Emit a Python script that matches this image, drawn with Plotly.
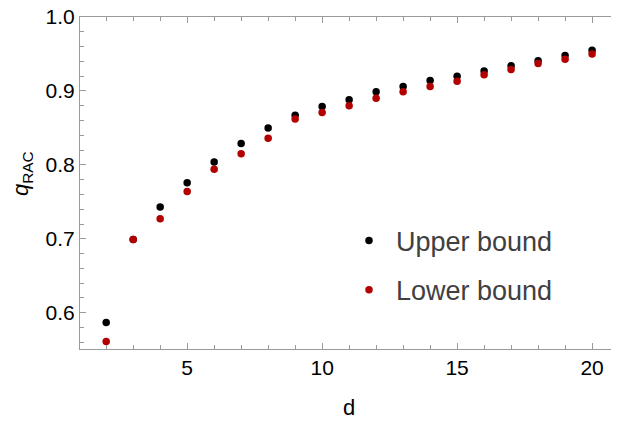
import plotly.graph_objects as go

d_values = list(range(2, 21))
upper_bound = [0.587, 0.699, 0.743, 0.776, 0.804, 0.829, 0.850, 0.867, 0.879, 0.888,
               0.899, 0.906, 0.914, 0.920, 0.927, 0.934, 0.941, 0.948, 0.955]
lower_bound = [0.561, 0.699, 0.727, 0.764, 0.794, 0.815, 0.836, 0.862, 0.871, 0.880,
               0.890, 0.899, 0.906, 0.913, 0.922, 0.929, 0.937, 0.943, 0.950]
series_names = ["Upper bound", "Lower bound"]
x_ticks = [5, 10, 15, 20]
y_ticks = [0.6, 0.7, 0.8, 0.9, 1.0]

FONT = "Liberation Sans, Arial, sans-serif"
AXIS_COLOR = "#9a9a9a"

fig = go.Figure()
fig.add_trace(go.Scatter(x=d_values, y=upper_bound, mode="markers", name=series_names[0],
                         marker=dict(color="#000000", size=7.5), legendgroup="u"))
fig.add_trace(go.Scatter(x=d_values, y=lower_bound, mode="markers", name=series_names[1],
                         marker=dict(color="#b30000", size=7.5), legendgroup="l"))

axis_common = dict(
    showline=True, linecolor=AXIS_COLOR, linewidth=1.2, mirror="allticks",
    ticks="inside", tickcolor=AXIS_COLOR, tickwidth=1.2, ticklen=6,
    showgrid=False, zeroline=False, automargin=False, ticklabeloverflow="allow",
    tickfont=dict(family=FONT, size=21, color="#000000"),
)

fig.update_xaxes(range=[1.03, 20.96], tickvals=x_ticks, ticktext=[str(v) for v in x_ticks],
                 minor=dict(dtick=1, tick0=0, ticks="inside", ticklen=3.5, tickcolor=AXIS_COLOR, tickwidth=1.2),
                 **axis_common)
fig.update_yaxes(range=[0.551, 1.0], tickvals=y_ticks, ticktext=[f"{v:.1f}" for v in y_ticks],
                 minor=dict(dtick=0.02, tick0=0, ticks="inside", ticklen=3.5, tickcolor=AXIS_COLOR, tickwidth=1.2),
                 **axis_common)

fig.add_annotation(text="d", xref="paper", yref="paper", x=0.5, y=0, yshift=-58, yanchor="middle",
                   showarrow=False, font=dict(family=FONT, size=22, color="#000000"))
fig.add_annotation(text="<i>q</i><sub>RAC</sub>", xref="paper", yref="paper", x=0, xshift=-58,
                   xanchor="center", y=0.527, yanchor="middle", textangle=-90, showarrow=False,
                   font=dict(family=FONT, size=22, color="#000000"))

# page body has an 8px margin, so the figure is 8px smaller and margins shifted
fig.update_layout(
    width=611, height=416,
    margin=dict(l=72, r=1, t=9, b=75, autoexpand=False),
    paper_bgcolor="white", plot_bgcolor="white",
    showlegend=True,
    legend=dict(x=0.487, y=0.399, xanchor="left", yanchor="top", bgcolor="rgba(0,0,0,0)",
                font=dict(family=FONT, size=27, color="#404040"), itemwidth=44,
                tracegroupgap=11, traceorder="grouped", itemsizing="trace"),
)

fig.write_html("out.html")
